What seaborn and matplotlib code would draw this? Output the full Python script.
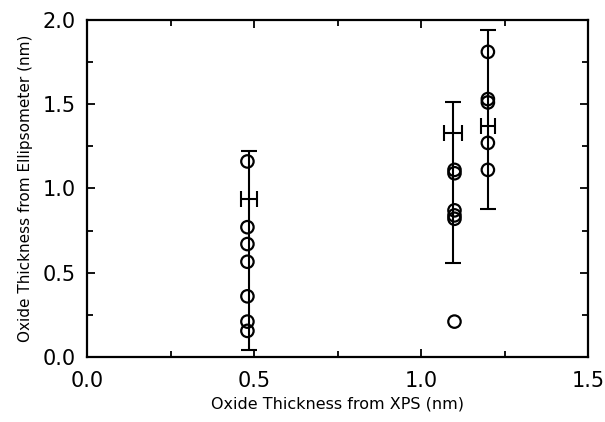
import matplotlib
matplotlib.use("Agg")
import matplotlib.pyplot as plt
import seaborn as sns
import pandas as pd
from matplotlib.ticker import MultipleLocator, FormatStrFormatter

# --- data ---
xps_group = [0.48, 1.10, 1.20]
ellip_g1 = [1.16, 0.77, 0.67, 0.565, 0.36, 0.21, 0.155]
ellip_g2 = [1.11, 1.09, 0.87, 0.84, 0.82, 0.21]
ellip_g3 = [1.81, 1.53, 1.51, 1.27, 1.11]
mean_x = [0.485, 1.095, 1.20]
mean_y = [0.94, 1.33, 1.37]
yerr_low = [0.04, 0.56, 0.88]
yerr_high = [1.22, 1.51, 1.94]
xerr = [0.025, 0.027, 0.02]

rows = []
for x, ys in zip(xps_group, [ellip_g1, ellip_g2, ellip_g3]):
    for y in ys:
        rows.append({"xps": x, "ellip": y})
df = pd.DataFrame(rows)

sns.set_theme(style="ticks")
plt.rcParams["font.family"] = ["DejaVu Sans"]

fig = plt.figure(figsize=(6.05, 4.22), dpi=100)
ax = fig.add_axes([0.144, 0.154, 0.828, 0.799])

sns.scatterplot(data=df, x="xps", y="ellip", ax=ax, marker="o", s=80,
                facecolor="none", edgecolor="black", linewidth=1.6, zorder=3)

lower = [m - lo for m, lo in zip(mean_y, yerr_low)]
upper = [hi - m for m, hi in zip(mean_y, yerr_high)]
ax.errorbar(mean_x, mean_y, yerr=[lower, upper], xerr=xerr, fmt="none",
            ecolor="black", elinewidth=1.5, capsize=6, capthick=1.5, zorder=2)

ax.set_xlim(0, 1.5)
ax.set_ylim(0, 2.0)
ax.xaxis.set_major_locator(MultipleLocator(0.5))
ax.xaxis.set_minor_locator(MultipleLocator(0.25))
ax.yaxis.set_major_locator(MultipleLocator(0.5))
ax.yaxis.set_minor_locator(MultipleLocator(0.25))
ax.xaxis.set_major_formatter(FormatStrFormatter("%.1f"))
ax.yaxis.set_major_formatter(FormatStrFormatter("%.1f"))
ax.tick_params(which="both", direction="in", top=True, right=True, color="black",
               width=1.3)
ax.tick_params(which="major", length=6, labelsize=15, labelcolor="black")
ax.tick_params(which="minor", length=4)
ax.tick_params(axis="x", which="major", pad=10)
ax.tick_params(axis="y", which="major", pad=8)
for sp in ax.spines.values():
    sp.set_visible(True)
    sp.set_color("black")
    sp.set_linewidth(1.6)

ax.set_xlabel("Oxide Thickness from XPS (nm)", fontsize=11.5, color="black", labelpad=4)
ax.set_ylabel("Oxide Thickness from Ellipsometer (nm)", fontsize=11, color="black", labelpad=7)

fig.savefig("out.png", dpi=100, facecolor="white")
